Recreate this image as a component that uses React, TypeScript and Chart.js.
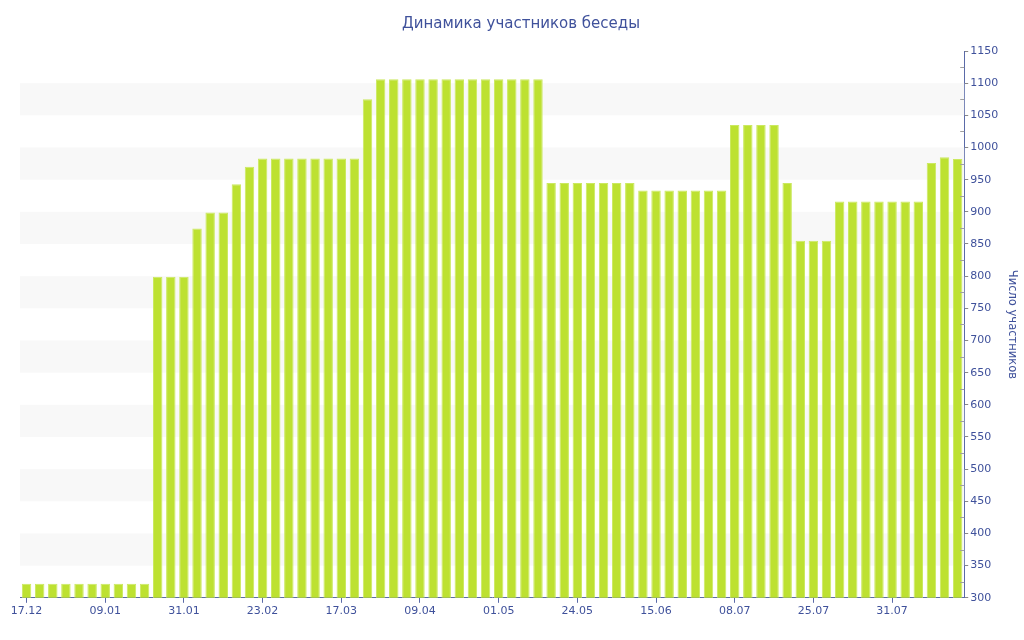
import { useEffect, useRef } from "react";
import { Chart, registerables, Plugin } from "chart.js";

Chart.register(...registerables);

const tickLabels = [
  "17.12", "09.01", "31.01", "23.02", "17.03", "09.04",
  "01.05", "24.05", "15.06", "08.07", "25.07", "31.07",
];

// one value per bar
const members = [
  322, 322, 322, 322, 322, 322, 322, 322, 322, 322,
  799, 799, 799,
  874,
  899, 899,
  943,
  970,
  983, 983, 983, 983, 983, 983, 983, 983,
  1075,
  1106, 1106, 1106, 1106, 1106, 1106, 1106, 1106, 1106, 1106, 1106, 1106, 1106,
  945, 945, 945, 945, 945, 945, 945,
  933, 933, 933, 933, 933, 933, 933,
  1035, 1035, 1035, 1035,
  945,
  855, 855, 855,
  916, 916, 916, 916, 916, 916, 916,
  976, 985, 982,
];

const LABEL_EVERY = 6;
const textColor = "#3f519b";
const axisColor = "#5a6aa8";

// alternating grey bands between y ticks
const bands: Plugin<"bar"> = {
  id: "bands",
  beforeDatasetsDraw(chart) {
    const { ctx, chartArea } = chart;
    const y = chart.scales.y;
    ctx.save();
    ctx.fillStyle = "#f8f8f8";
    for (let i = 1; i < y.ticks.length - 1; i += 2) {
      const top = y.getPixelForValue(y.ticks[i + 1].value);
      const bottom = y.getPixelForValue(y.ticks[i].value);
      ctx.fillRect(chartArea.left, top, chartArea.right - chartArea.left, bottom - top);
    }
    ctx.restore();
  },
  afterDraw(chart) {
    // minor ticks on the inner side of the right axis
    const { ctx, chartArea } = chart;
    const y = chart.scales.y;
    ctx.save();
    ctx.strokeStyle = "#a0a0a0";
    ctx.lineWidth = 1;
    for (let i = 0; i < y.ticks.length - 1; i++) {
      const mid = (y.ticks[i].value + y.ticks[i + 1].value) / 2;
      const py = Math.round(y.getPixelForValue(mid)) + 0.5;
      ctx.beginPath();
      ctx.moveTo(chartArea.right - 4, py);
      ctx.lineTo(chartArea.right, py);
      ctx.stroke();
    }
    ctx.restore();
  },
};

export default function App() {
  const canvasRef = useRef<HTMLCanvasElement>(null);

  useEffect(() => {
    document.body.style.margin = "0";
    if (!canvasRef.current) return;
    const chart = new Chart(canvasRef.current, {
      type: "bar",
      data: {
        labels: members.map((_, i) => String(i)),
        datasets: [
          {
            label: "Число участников",
            data: members,
            backgroundColor: "#bde131",
            borderColor: "#cbe960",
            borderWidth: 1,
            categoryPercentage: 1,
            barPercentage: 0.72,
          },
        ],
      },
      options: {
        animation: false,
        responsive: true,
        maintainAspectRatio: false,
        layout: { padding: { left: 20, right: 2, top: 0, bottom: 20 } },
        plugins: {
          legend: { display: false },
          tooltip: { enabled: false },
          title: {
            display: true,
            text: "Динамика участников беседы",
            color: textColor,
            font: { family: "DejaVu Sans", size: 15, weight: "normal" },
            padding: { top: 15, bottom: 18 },
          },
        },
        scales: {
          x: {
            grid: {
              offset: false,
              drawOnChartArea: false,
              tickLength: 5,
              tickColor: (ctx) => (ctx.index % LABEL_EVERY === 0 ? axisColor : "transparent"),
            },
            border: { color: axisColor },
            ticks: {
              autoSkip: false,
              maxRotation: 0,
              padding: 2,
              color: textColor,
              font: { family: "DejaVu Sans", size: 11 },
              callback: (_v, i) => (i % LABEL_EVERY === 0 ? tickLabels[i / LABEL_EVERY] : ""),
            },
          },
          y: {
            position: "right",
            min: 300,
            max: 1150,
            grid: {
              drawOnChartArea: false,
              tickLength: 4,
              tickColor: "#888888",
            },
            border: { color: axisColor },
            ticks: {
              stepSize: 50,
              padding: 2,
              color: textColor,
              font: { family: "DejaVu Sans", size: 11 },
              callback: (v) => String(v),
            },
            title: {
              display: true,
              text: "Число участников",
              color: textColor,
              font: { family: "DejaVu Sans", size: 11.5 },
              padding: { top: 3, bottom: 5 },
            },
          },
        },
      },
      plugins: [bands],
    });
    return () => chart.destroy();
  }, []);

  return (
    <div style={{ width: 1024, height: 640, position: "relative" }}>
      <canvas ref={canvasRef} />
    </div>
  );
}
